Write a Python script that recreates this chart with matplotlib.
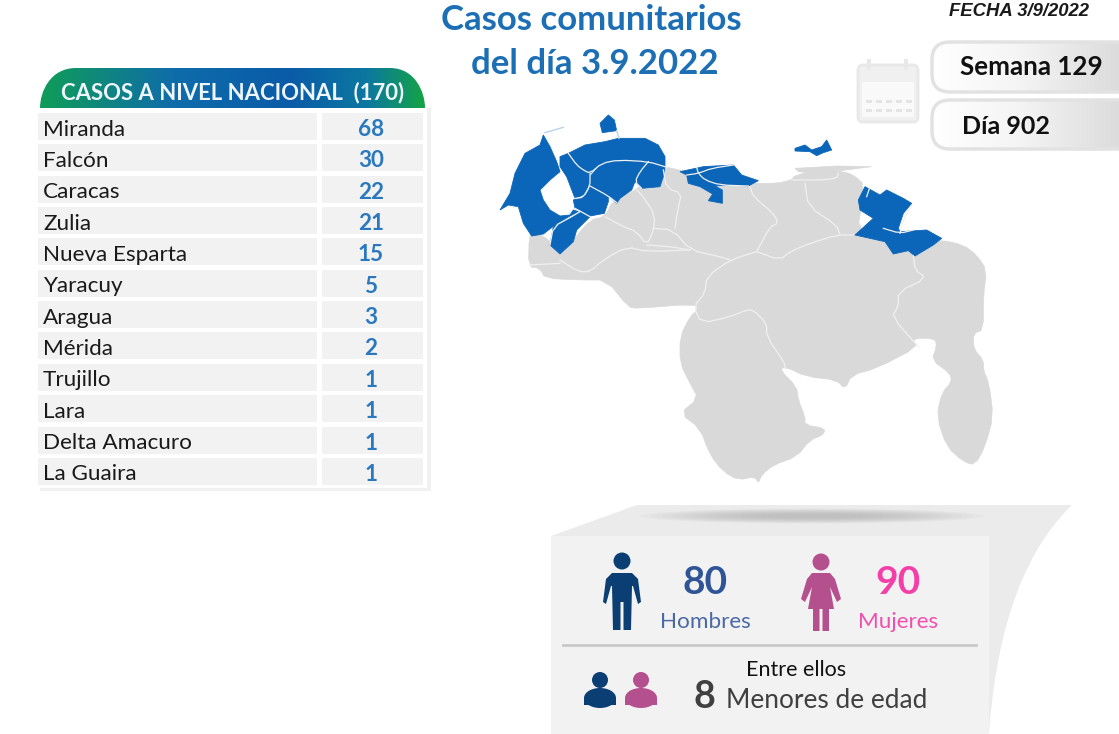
import numpy as np
import matplotlib
matplotlib.use('Agg')
import matplotlib.pyplot as plt
from matplotlib.colors import LinearSegmentedColormap
from matplotlib.patches import Polygon, FancyBboxPatch, Circle, Ellipse, Rectangle, PathPatch
from matplotlib.path import Path

plt.rcParams['font.family'] = ['Lato', 'DejaVu Sans']

# table values
states = ['Miranda', 'Falcón', 'Caracas', 'Zulia', 'Nueva Esparta', 'Yaracuy',
          'Aragua', 'Mérida', 'Trujillo', 'Lara', 'Delta Amacuro', 'La Guaira']
cases = [68, 30, 22, 21, 15, 5, 3, 2, 1, 1, 1, 1]
total_cases = 170
men = 80
women = 90
minors = 8
week = 129
day = 902

MAP_BLUE = '#0b66ba'
MAP_GRAY = '#d9d9d9'
TITLE_BLUE = '#1c6fb4'

# map outlines in three crops; each list goes with an origin in to_px
MAIN = (490, 100)
WEST = (495, 110)
EAST = (670, 130)

country = [(345,350),(370,300),(440,270),(520,200),(570,210),(700,250),(800,250),(860,250),(905,240),(915,225),
           (1000,210),(1060,215),(1090,225),(1125,255),(1100,405),(1200,420),(1355,420),(1420,435),(1460,465),
           (1490,510),(1480,590),(1480,690),(1450,700),(1450,745),(1480,780),(1480,810),(1497,850),(1510,950),
           (1485,1040),(1455,1095),(1420,1085),(1370,1040),(1340,950),(1355,880),(1385,845),(1380,820),(1325,780),
           (1340,740),(1335,715),(1265,715),(1285,740),(1160,805),(1085,825),(1065,868),(1040,840),(950,830),
           (885,800),(870,810),(920,860),(925,900),(945,950),(945,975),(1005,985),(1000,1005),(960,1020),
           (920,1070),(850,1095),(815,1125),(805,1150),(795,1130),(745,1140),(700,1115),(660,1065),(630,985),
           (570,940),(625,895),(600,850),(570,790),(570,710),(600,650),(625,628),(610,612),(445,625),(415,622),
           (350,540),(270,540),(165,535),(150,505),(115,500),(118,405),(130,395),(180,420),(210,465),(250,420),(300,360)]
strip = [(375,115),(500,108),(605,110),(510,122),(430,130),(385,125)]

west_shapes = [
    [(15,300),(45,250),(60,190),(90,130),(135,105),(145,75),(165,110),(185,155),(195,185),(165,210),(135,240),(145,270),
     (165,300),(195,318),(225,315),(235,300),(250,305),(225,318),(180,345),(145,372),(110,378),(85,340),(70,290),(40,285)],
    [(220,130),(270,105),(330,95),(370,85),(450,85),(490,105),(510,140),(510,170),(460,155),(370,150),(320,160),(285,190),
     (265,180),(245,165)],
    [(195,140),(220,130),(245,165),(265,180),(285,190),(285,220),(265,255),(240,265),(215,200),(195,170)],
    [(285,200),(320,160),(370,150),(460,155),(435,185),(420,215),(410,240),(375,265),(365,280),(345,262),(290,235),(280,225)],
    [(460,155),(510,170),(505,200),(495,230),(440,235),(420,215),(435,185)],
    [(265,262),(285,228),(340,258),(340,275),(328,310),(285,318),(240,295),(235,270)],
    [(165,405),(175,350),(230,320),(255,305),(285,320),(245,360),(235,395),(195,432)],
    [(315,40),(340,15),(358,30),(365,62),(322,68)],
]
east_shapes = [
    [(30,125),(100,110),(190,105),(215,135),(265,152),(235,168),(165,165),(135,168),(157,180),(157,220),(115,212),
     (128,192),(90,170),(55,160),(50,135)],
    [(375,55),(405,45),(425,60),(455,50),(470,30),(485,60),(460,68),(440,77),(420,65),(375,63)],
    [(565,210),(585,170),(630,195),(650,180),(700,205),(725,220),(700,250),(685,295),(690,305),(770,300),(815,325),
     (790,345),(735,378),(715,362),(670,372),(645,335),(555,315),(610,265),(570,240)],
]
gray_borders = [
    [(345,350),(400,380),(440,395),(470,435),(490,395),(495,345),(460,290),(440,270)],
    [(490,385),(550,390),(600,450),(690,470),(720,480)],
    [(470,435),(540,440),(600,450)],
    [(555,385),(565,320),(575,280),(530,265),(520,210)],
    [(800,455),(840,380),(865,370),(850,340),(790,290),(780,260)],
    [(800,455),(720,480),(650,530),(645,580),(610,620),(635,670),(720,650),(770,630),(790,630),(830,670),(830,710),
     (885,790),(885,805)],
    [(210,480),(265,515),(300,515),(340,480),(410,440),(470,455),(600,450)],
    [(800,455),(870,480),(900,455),(960,430),(1040,405),(1090,405)],
    [(945,250),(955,320),(1040,375),(1050,405)],
    [(905,240),(990,240),(1040,235),(1045,220)],
    [(1270,468),(1275,510),(1310,535),(1225,575),(1225,620),(1205,650),(1285,740)],
    [(118,495),(210,490)],
]
west_borders = [
    [(220,130),(245,165),(265,180),(285,190),(320,160),(370,150),(460,155),(510,170)],
    [(285,190),(285,228),(265,262),(240,265)],
    [(285,228),(340,258),(365,278)],
    [(460,155),(435,185),(420,215),(440,235)],
    [(255,305),(230,320),(175,350),(165,405)],
    [(240,295),(285,320)],
]
east_borders = [
    [(80,112),(85,130),(105,150),(150,165),(235,168)],
    [(50,135),(85,130),(125,115),(190,105)],
    [(640,295),(690,310),(730,300)],
    [(720,235),(700,270),(690,310)],
    [(600,170),(590,200)],
]


def to_px(points, origin=MAIN):
    return [(origin[0] + x / 3, origin[1] + y / 3) for x, y in points]


def smooth(points, closed=False):
    # one corner cutting pass so the traced outlines look less angular
    pts = np.array(points, dtype=float)
    nxt = np.roll(pts, -1, axis=0) if closed else pts[1:]
    cur = pts if closed else pts[:-1]
    q = 0.75 * cur + 0.25 * nxt
    r = 0.25 * cur + 0.75 * nxt
    out = np.empty((len(q) * 2, 2))
    out[0::2] = q
    out[1::2] = r
    if not closed:
        out = np.vstack([pts[0], out, pts[-1]])
    return out.tolist()


def gradient_fill(ax, patch, xs, colors, extent):
    # horizontal gradient clipped by a patch
    cmap = LinearSegmentedColormap.from_list('g', list(zip(xs, colors)))
    grad = np.linspace(0, 1, 256).reshape(1, -1)
    ax.add_patch(patch)
    im = ax.imshow(grad, cmap=cmap, extent=extent, aspect='auto', zorder=patch.get_zorder())
    im.set_clip_path(patch)


def draw_man(ax, cx, top, color):
    ax.add_patch(Circle((cx, top + 9), 8.5, color=color, lw=0, zorder=3))
    body = [(-10,21),(10,21),(16,27),(19,50),(16,52),(11,34),(10,34),(9,78),(1.5,78),(1.5,50),(-1.5,50),(-1.5,78),
            (-9,78),(-10,34),(-11,34),(-16,52),(-19,50),(-16,27)]
    ax.add_patch(Polygon([(cx + x, top + y) for x, y in body], color=color, lw=0, zorder=3))


def draw_woman(ax, cx, top, color):
    ax.add_patch(Circle((cx, top + 9), 8.5, color=color, lw=0, zorder=3))
    body = [(-9,20),(9,20),(14,26),(20,46),(16,49),(9,34),(13,56),(8,56),(8,78),(1.5,78),(1.5,56),(-1.5,56),(-1.5,78),
            (-8,78),(-8,56),(-13,56),(-9,34),(-16,49),(-20,46),(-14,26)]
    ax.add_patch(Polygon([(cx + x, top + y) for x, y in body], color=color, lw=0, zorder=3))


def draw_bust(ax, cx, color):
    ax.add_patch(Circle((cx, 680), 8, color=color, lw=0, zorder=3))
    ax.add_patch(Ellipse((cx, 698), 32, 20, color=color, lw=0, zorder=3))
    ax.add_patch(Rectangle((cx - 16, 698), 32, 7, color=color, lw=0, zorder=3))


fig = plt.figure(figsize=(11.19, 7.34), dpi=100)
ax = fig.add_axes([0, 0, 1, 1])

# titles
ax.text(591, 20, 'Casos comunitarios', ha='center', va='center', fontsize=25, fontweight='bold', color=TITLE_BLUE)
ax.text(595, 64, 'del día 3.9.2022', ha='center', va='center', fontsize=25, fontweight='bold', color=TITLE_BLUE)
ax.text(1089, 12, 'FECHA 3/9/2022', ha='right', va='center', fontsize=13.3, style='italic', fontweight='bold',
        family='Liberation Sans', color='#1a1a1a')

# week and day pills
for y0, y1 in [(42, 92), (100, 149)]:
    ax.add_patch(FancyBboxPatch((932, y0), 240, y1 - y0, boxstyle='round,pad=0,rounding_size=18', fc='none',
                                ec='#e2e2e2', lw=2.5, zorder=2))
    pill = FancyBboxPatch((932, y0), 240, y1 - y0, boxstyle='round,pad=0,rounding_size=18', fc='none', ec='none', zorder=1)
    gradient_fill(ax, pill, [0, 0.45, 1], ['#ffffff', '#f5f5f5', '#dcdcdc'], (932, 1119, y1, y0))
ax.text(960, 67, f'Semana {week}', ha='left', va='center', fontsize=18.7, fontweight='bold', color='#111111', zorder=3)
ax.text(962, 126, f'Día {day}', ha='left', va='center', fontsize=18, fontweight='bold', color='#111111', zorder=3)

# calendar icon
ax.add_patch(FancyBboxPatch((858, 65), 60, 57, boxstyle='round,pad=0,rounding_size=5', fc='#f0f0f0', ec='#e8e8e8', lw=2))
ax.add_patch(Rectangle((862, 82), 52, 35, fc='#f9f9f9', ec='none'))
for x in [869, 906]:
    ax.add_patch(Rectangle((x - 2, 59), 4, 11, fc='#e8e8e8', ec='none'))
for y in [101, 110]:
    for x in range(866, 912, 10):
        ax.add_patch(Rectangle((x, y - 1.5), 6, 3, fc='#e4e4e4', ec='none'))

# table
ax.add_patch(Rectangle((40, 108), 391, 383, fc='#e8e8e8', ec='none', alpha=0.6, zorder=0))
ax.add_patch(Rectangle((36, 108), 391, 380, fc='white', ec='none', zorder=0.5))
header_path = Path([(40, 108), (40, 92), (50, 68), (76, 68), (390, 68), (415, 68), (425, 92), (425, 108), (40, 108)],
                   [Path.MOVETO, Path.CURVE4, Path.CURVE4, Path.CURVE4, Path.LINETO, Path.CURVE4, Path.CURVE4, Path.CURVE4,
                    Path.CLOSEPOLY])
header = PathPatch(header_path, fc='none', ec='none', zorder=1)
gradient_fill(ax, header, [0, 0.35, 0.65, 0.85, 1],
              ['#0f9d58', '#0f6cab', '#0a5ba8', '#0c78a0', '#14a346'], (40, 425, 108, 68))
ax.text(232.5, 93, f'CASOS A NIVEL NACIONAL  ({total_cases})', ha='center', va='center', fontsize=15.9,
        fontweight='bold', color='#eef5fb', zorder=2)

row_top = 113
row_step = 31.35
for i, (name, value) in enumerate(zip(states, cases)):
    y = row_top + i * row_step
    ax.add_patch(Rectangle((38, y), 279, 27, fc='#f2f2f2', ec='none', zorder=1))
    ax.add_patch(Rectangle((322, y), 101, 27, fc='#f2f2f2', ec='none', zorder=1))
    ax.text(43, y + 16.5, name, ha='left', va='center', fontsize=16.2, color='#1a1a1a', zorder=2)
    ax.text(371, y + 16.5, str(value), ha='center', va='center', fontsize=16.2, fontweight='bold', color='#2a78bd', zorder=2)

# map
ax.add_patch(Polygon(to_px(smooth(country, closed=True)), fc=MAP_GRAY, ec=MAP_GRAY, lw=0.5, zorder=1))
ax.add_patch(Polygon(to_px(strip, EAST), fc=MAP_GRAY, ec=MAP_GRAY, lw=0.5, zorder=1))
for origin, shapes in [(WEST, west_shapes), (EAST, east_shapes)]:
    for shape in shapes:
        ax.add_patch(Polygon(to_px(shape, origin), fc=MAP_BLUE, ec=MAP_BLUE, lw=0.6, zorder=2))
for origin, lines in [(MAIN, gray_borders), (WEST, west_borders), (EAST, east_borders)]:
    for line in lines:
        xs, ys = zip(*to_px(smooth(line), origin))
        ax.plot(xs, ys, color='#f0f0f0', lw=0.9, zorder=3)
for line in [[(150,68),(205,52)], [(365,62),(372,85)]]:
    xs, ys = zip(*to_px(line, WEST))
    ax.plot(xs, ys, color='#b9d3ea', lw=1, zorder=3)

# sex and age panel
back_verts = [(551, 536), (637, 505), (1072, 505), (1015, 560), (995, 650), (989, 734), (551, 734), (551, 536)]
back_codes = [Path.MOVETO, Path.LINETO, Path.LINETO, Path.CURVE4, Path.CURVE4, Path.CURVE4, Path.LINETO, Path.CLOSEPOLY]
ax.add_patch(PathPatch(Path(back_verts, back_codes), fc='#ebebeb', ec='none', zorder=1))
for k in range(12):
    ax.add_patch(Ellipse((812, 516), 345 - k * 22, 15 - k, fc='#a8a8a8', ec='none', alpha=0.07, zorder=1.1))
ax.add_patch(Rectangle((551, 536), 438, 198, fc='#f2f2f2', ec='none', zorder=1.2))

draw_man(ax, 622, 552, '#0b3f73')
draw_woman(ax, 821, 553, '#b5508f')
ax.text(705, 583, str(men), ha='center', va='center', fontsize=28, fontweight='bold', color='#2f5597', zorder=3)
ax.text(705, 622, 'Hombres', ha='center', va='center', fontsize=16.2, color='#4a69a5', zorder=3)
ax.text(898, 583, str(women), ha='center', va='center', fontsize=28, fontweight='bold', color='#f43fa8', zorder=3)
ax.text(898, 622, 'Mujeres', ha='center', va='center', fontsize=16.2, color='#f050ad', zorder=3)
ax.plot([563, 976], [645, 645], color='#c9c9c9', lw=2, zorder=3)
draw_bust(ax, 600, '#0b3f73')
draw_bust(ax, 641, '#b5508f')
ax.text(796, 670, 'Entre ellos', ha='center', va='center', fontsize=15.5, color='#111111', zorder=3)
ax.text(704, 697, str(minors), ha='center', va='center', fontsize=27, fontweight='bold', color='#404040', zorder=3)
ax.text(726, 700, 'Menores de edad', ha='left', va='center', fontsize=18.9, color='#404040', zorder=3)

ax.set_xlim(0, 1119)
ax.set_ylim(734, 0)
ax.axis('off')
fig.savefig('out.png', dpi=100, facecolor='white')
